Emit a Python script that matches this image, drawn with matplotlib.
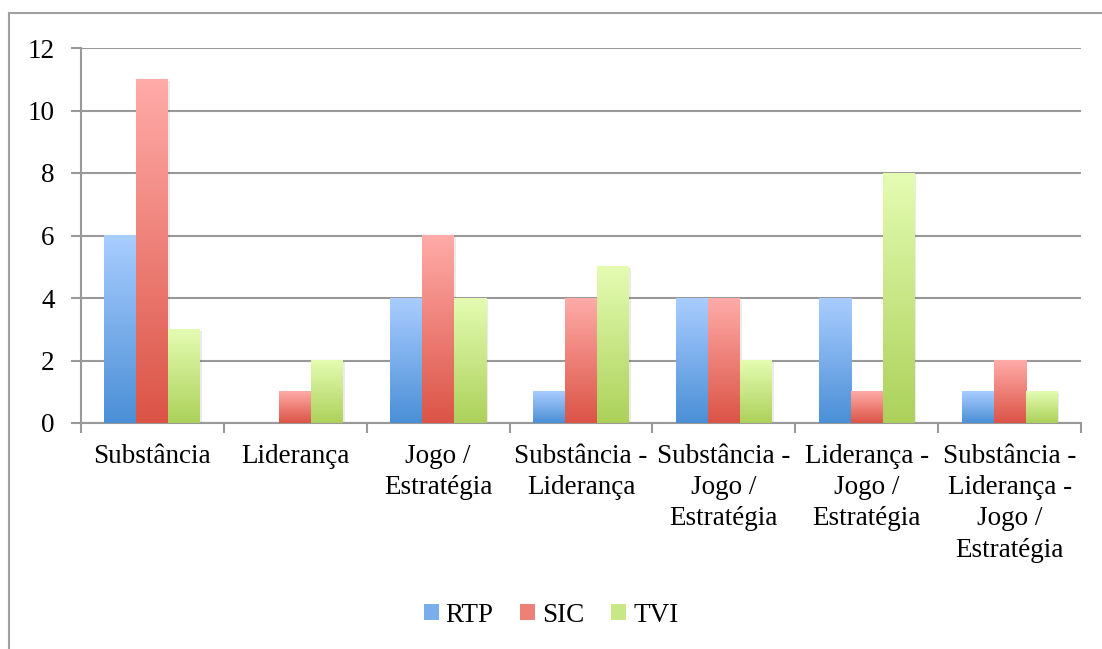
import numpy as np
import matplotlib.pyplot as plt
from matplotlib.patches import Rectangle
from matplotlib.colors import LinearSegmentedColormap

# data
categories = ["Substância", "Liderança", "Jogo /\nEstratégia",
              "Substância -\nLiderança", "Substância -\nJogo /\nEstratégia",
              "Liderança -\nJogo /\nEstratégia",
              "Substância -\nLiderança -\nJogo /\nEstratégia"]
series = ["RTP", "SIC", "TVI"]
rtp = [6, 0, 4, 1, 4, 4, 1]
sic = [11, 1, 6, 4, 4, 1, 2]
tvi = [3, 2, 4, 5, 2, 8, 1]

# (bottom colour, top colour) for the gradient fill of each series
grads = [("#4a8fd6", "#a9cdff"), ("#db5446", "#ffaba8"), ("#acd15a", "#e4fcb2")]

plt.rcParams['font.family'] = ['Liberation Serif', 'DejaVu Serif']
fs = 19.5

fig = plt.figure(figsize=(11.02, 6.49), dpi=100)
# outer chart border
fig.patches.append(Rectangle((9 / 1102, -0.1), 1.2, 1 - 13 / 649 + 0.1,
                             transform=fig.transFigure, fill=False,
                             edgecolor="#a0a0a0", linewidth=1.5))

ax = fig.add_axes([81 / 1102, 1 - 423 / 649, 1000 / 1102, (423 - 48) / 649])

x = np.arange(len(categories))
w = 0.224
grad = np.linspace(0, 1, 256).reshape(-1, 1)
for i, vals in enumerate([rtp, sic, tvi]):
    cmap = LinearSegmentedColormap.from_list(series[i], grads[i])
    for xi, v in zip(x, vals):
        if v <= 0:
            continue
        left = xi + (i - 1) * w - w / 2
        # faint shadow
        ax.add_patch(Rectangle((left + 0.012, 0), w, v - 0.05,
                               facecolor="#000000", alpha=0.08,
                               edgecolor="none", zorder=2))
        ax.imshow(grad, cmap=cmap, origin="lower", aspect="auto",
                  extent=(left, left + w, 0, v), zorder=3)
    # legend proxy
    ax.bar([0], [0], color=cmap(0.5), label=series[i])

ax.set_xlim(-0.5, len(categories) - 0.5)
ax.set_ylim(0, 12)
ax.set_yticks(range(0, 13, 2))
ax.grid(axis="y", color="#999999", linewidth=1.5, zorder=1)
ax.set_axisbelow(True)

ax.set_xticks(x)
ax.set_xticklabels(categories, fontsize=fs, linespacing=1.33, va="top")
ax.set_xticks(np.arange(-0.5, len(categories), 1), minor=True)
ax.tick_params(axis="x", which="major", length=0, pad=15)
ax.tick_params(axis="x", which="minor", length=7, color="#999999", width=1.5)
ax.tick_params(axis="y", length=7, color="#999999", width=1.5,
               labelsize=fs, pad=12)

for s in ["top", "right"]:
    ax.spines[s].set_visible(False)
for s in ["left", "bottom"]:
    ax.spines[s].set_color("#999999")
    ax.spines[s].set_linewidth(1.5)

leg = fig.legend(loc="center", bbox_to_anchor=(0.5, 1 - 615 / 649), ncol=3,
                 frameon=False, fontsize=fs, handlelength=0.55,
                 handleheight=0.55, handletextpad=0.25, columnspacing=1.0)

fig.savefig("out.png", dpi=100)
